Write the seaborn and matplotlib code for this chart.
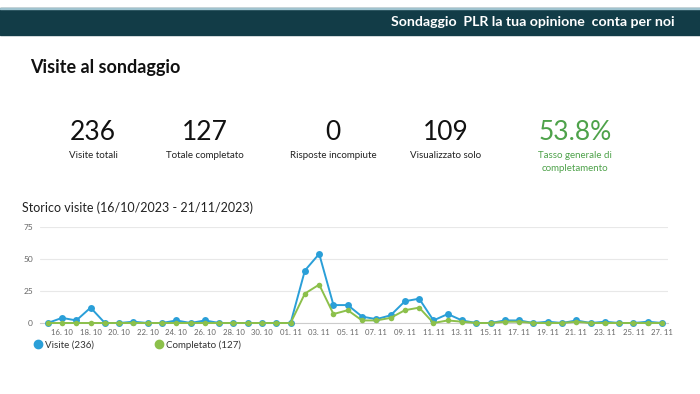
import matplotlib
matplotlib.use("Agg")
import matplotlib.pyplot as plt
import matplotlib.dates as mdates
from matplotlib.lines import Line2D
import pandas as pd
import seaborn as sns

# Data
dates = pd.date_range("2023-10-15", "2023-11-27", freq="D")
visite = [0, 4, 2, 12, 0, 0, 1, 0, 0, 2, 0, 2, 0, 0, 0, 0, 0, 0,
          41, 54, 14, 14, 5, 3, 6, 17, 19, 2, 7, 2, 0, 0, 2, 2,
          0, 1, 0, 2, 0, 1, 0, 0, 1, 0]
completato = [0, 0, 0, 0, 0, 0, 0, 0, 0, 0, 0, 0, 0, 0, 0, 0, 0, 0,
              23, 30, 7, 10, 2, 2, 4, 10, 12, 0, 2, 1, 0, 0, 1, 1,
              0, 0, 0, 1, 0, 0, 0, 0, 0, 0]

kpi_values = ["236", "127", "0", "109", "53.8%"]
kpi_labels = ["Visite totali", "Totale completato", "Risposte incompiute",
              "Visualizzato solo", "Tasso generale di\ncompletamento"]

df = pd.DataFrame({"date": dates, "Visite": visite, "Completato": completato})

BLUE = "#2a9fd8"
GREEN = "#8cc04b"
TEAL = "#123c47"

sns.set_style("white")
plt.rcParams["font.family"] = ["Lato", "DejaVu Sans"]

fig = plt.figure(figsize=(7, 3.94), dpi=100)

# Header banner
fig.patches.append(plt.Rectangle((0, 1 - 35 / 394), 1, 27 / 394,
                                 transform=fig.transFigure, color=TEAL, zorder=0))
fig.patches.append(plt.Rectangle((0, 1 - 9 / 394), 1, 1.5 / 394,
                                 transform=fig.transFigure, color="#9fc3cf", zorder=1))
fig.text(675 / 700, 1 - 22 / 394, "Sondaggio  PLR la tua opinione  conta per noi",
         color="white", fontsize=10.2, fontweight="bold", ha="right", va="center")

fig.text(30 / 700, 1 - 68 / 394, "Visite al sondaggio", fontsize=13,
         fontweight="bold", color="#111111", va="center")

# KPI blocks
kpi_x = [93, 205, 333, 446, 575]
for i, (v, lab) in enumerate(zip(kpi_values, kpi_labels)):
    col = "#4ea24a" if i == 4 else "#111111"
    fig.text(kpi_x[i] / 700, 1 - 132 / 394, v, fontsize=19, color=col,
             ha="center", va="center")
    fig.text(kpi_x[i] / 700, 1 - 151 / 394, lab, fontsize=7,
             color="#4ea24a" if i == 4 else "#222222",
             ha="center", va="top", linespacing=1.6)

fig.text(22 / 700, 1 - 208 / 394, "Storico visite (16/10/2023 - 21/11/2023)",
         fontsize=9, color="#222222", va="center")

# Line chart
ax = fig.add_axes([40 / 700, 1 - 323 / 394, 628 / 700, 96 / 394])
sns.lineplot(data=df, x="date", y="Visite", ax=ax, color=BLUE, marker="o",
             markersize=5, markeredgewidth=0, linewidth=1.4, clip_on=False, zorder=3)
sns.lineplot(data=df, x="date", y="Completato", ax=ax, color=GREEN, marker="o",
             markersize=4, markeredgewidth=0, linewidth=1.4, clip_on=False, zorder=4)

ax.set_xlim(dates[0] - pd.Timedelta(hours=13), dates[-1] + pd.Timedelta(hours=10))
ax.set_ylim(0, 75)
ax.set_yticks([0, 25, 50, 75])
ax.set_xticks(dates[1::2])
ax.xaxis.set_major_formatter(mdates.DateFormatter("%d. %m"))
ax.tick_params(axis="x", labelsize=5.6, colors="#666666", length=3,
               direction="inout", pad=3, color="#cccccc")
ax.tick_params(axis="y", labelsize=6, colors="#666666", length=0, pad=5)
ax.grid(axis="y", color="#e8e8e8", linewidth=0.8)
ax.set_xlabel("")
ax.set_ylabel("")
for side in ["top", "right", "left"]:
    ax.spines[side].set_visible(False)
ax.spines["bottom"].set_color("#cccccc")
ax.spines["bottom"].set_linewidth(0.8)

handles = [Line2D([], [], marker="o", color=BLUE, linestyle="", markersize=6),
           Line2D([], [], marker="o", color=GREEN, linestyle="", markersize=6)]
fig.legend(handles, ["Visite (236)", "Completato (127)"], ncol=2,
           loc="center left", bbox_to_anchor=(24 / 700, 1 - 345 / 394),
           frameon=False, fontsize=7, handletextpad=0.3, columnspacing=6.1,
           handlelength=1.0, labelcolor="#333333")

fig.savefig("out.png", dpi=100)
